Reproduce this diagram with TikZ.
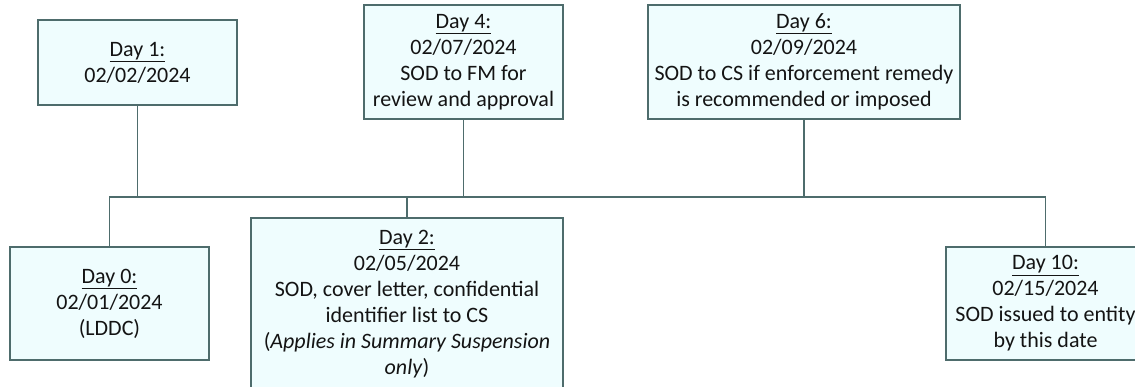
\documentclass[tikz,border=0pt]{standalone}
\usepackage{fontspec}
\setmainfont{Carlito}
\definecolor{boxfill}{HTML}{EFFDFE}
\definecolor{boxline}{HTML}{4E6C6C}
\definecolor{ink}{HTML}{141414}
\begin{document}
\begin{tikzpicture}[x=1pt,y=-1pt,
  daybox/.style={draw=boxline, fill=boxfill, line width=1.3pt, align=center,
    inner sep=0pt, text=ink, font=\fontsize{22}{26}\selectfont},
  link/.style={draw=boxline, line width=1.3pt}]
  \useasboundingbox (0,0) rectangle (1135,386);
  \clip (0,0) rectangle (1135,386);
  \fill[white] (0,0) rectangle (1135,386);

  % events above the time line
  \node[daybox, minimum width=199pt, minimum height=85pt] (d1) at (137.5,62.5)
    {\underline{Day 1:}\\02/02/2024};
  \node[daybox, minimum width=199pt, minimum height=114pt] (d4) at (463.5,62)
    {\underline{Day 4:}\\02/07/2024\\SOD to FM for\\review and approval};
  \node[daybox, minimum width=312pt, minimum height=114pt] (d6) at (804,62)
    {\underline{Day 6:}\\02/09/2024\\SOD to CS if enforcement remedy\\is recommended or imposed};

  % events below the time line
  \node[daybox, minimum width=199pt, minimum height=113pt] (d0) at (109.5,303.5)
    {\underline{Day 0:}\\02/01/2024\\(LDDC)};
  \node[daybox, minimum width=312pt, minimum height=172pt] (d2) at (407,304)
    {\underline{Day 2:}\\02/05/2024\\SOD, cover letter, confidential\\identifier list to CS\\(\textit{Applies in Summary Suspension}\\\textit{only})};
  \node[daybox, minimum width=199pt, minimum height=113pt] (d10) at (1045.5,303.5)
    {\underline{Day 10:}\\02/15/2024\\SOD issued to entity\\by this date};

  % time line
  \coordinate (tl) at (0,197);
  \draw[link] (d0.north) -- (d0.north |- tl) -- (d10.north |- tl) -- (d10.north);
  \draw[link] (d1.south) -- (d1.south |- tl);
  \draw[link] (d4.south) -- (d4.south |- tl);
  \draw[link] (d6.south) -- (d6.south |- tl);
  \draw[link] (d2.north) -- (d2.north |- tl);
\end{tikzpicture}
\end{document}
